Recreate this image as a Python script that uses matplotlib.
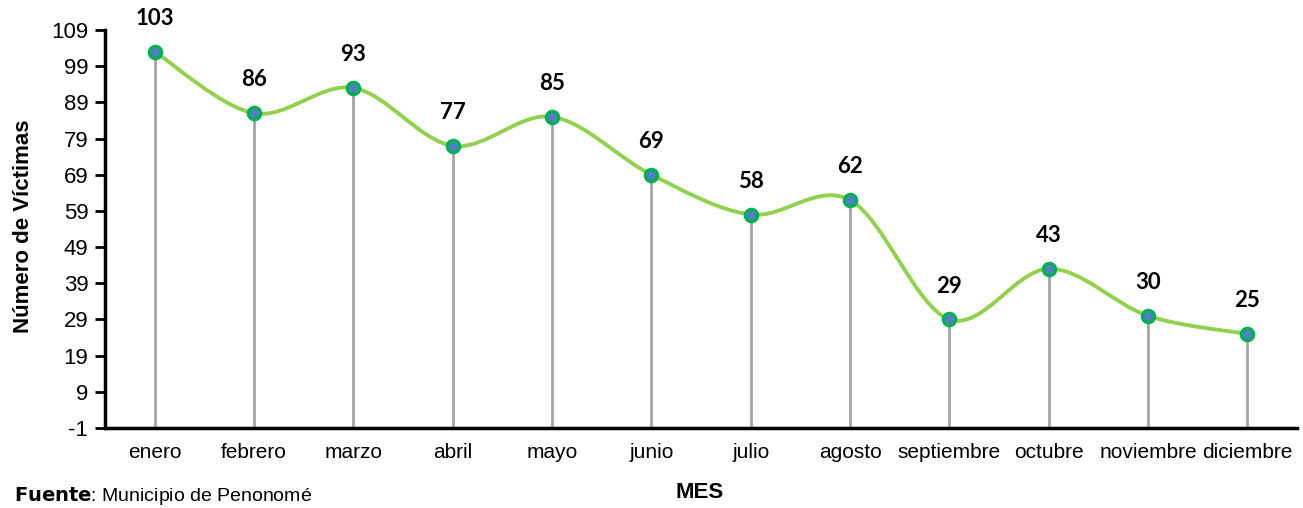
import matplotlib.pyplot as plt
import numpy as np
from matplotlib.path import Path
from matplotlib.patches import PathPatch

# data
meses = ['enero', 'febrero', 'marzo', 'abril', 'mayo', 'junio', 'julio',
         'agosto', 'septiembre', 'octubre', 'noviembre', 'diciembre']
victimas = [103, 86, 93, 77, 85, 69, 58, 62, 29, 43, 30, 25]
yticks = [-1, 9, 19, 29, 39, 49, 59, 69, 79, 89, 99, 109]

plt.rcParams['font.family'] = ['Liberation Sans', 'DejaVu Sans']
plt.rcParams['axes.unicode_minus'] = False


def smooth_path(xs, ys):
    # excel-style smoothed line: cubic bezier, catmull-rom tangents
    n = len(xs)
    verts = [(xs[0], ys[0])]
    codes = [Path.MOVETO]
    t = 1 / 6
    for i in range(n - 1):
        x0, y0 = (xs[i - 1], ys[i - 1]) if i > 0 else (xs[i], ys[i])
        x1, y1 = xs[i], ys[i]
        x2, y2 = xs[i + 1], ys[i + 1]
        x3, y3 = (xs[i + 2], ys[i + 2]) if i + 2 < n else (x2, y2)
        c1 = (x1 + (x2 - x0) * t, y1 + (y2 - y0) * t)
        c2 = (x2 - (x3 - x1) * t, y2 - (y3 - y1) * t)
        verts += [c1, c2, (x2, y2)]
        codes += [Path.CURVE4] * 3
    return Path(verts, codes)


fig = plt.figure(figsize=(13.03, 5.08), dpi=100)
ax = fig.add_axes([0.0806, 0.1575, 0.9148, 0.7835])

x = np.arange(len(meses))

# gray drop lines
ax.vlines(x, -1, victimas, color='#a6a6a6', lw=2, zorder=1)

ax.add_patch(PathPatch(smooth_path(x, victimas), fill=False,
                       edgecolor='#92d050', lw=2.8, zorder=2))
ax.plot(x, victimas, 'o', ms=9, mfc='#4f81bd', mec='#00b050', mew=2.2,
        zorder=3, ls='none')

for xi, v in zip(x, victimas):
    ax.annotate(str(v), (xi, v), xytext=(0, 24), textcoords='offset points',
                ha='center', va='center', fontsize=16, fontweight='bold',
                family=['Lato', 'DejaVu Sans'])

ax.set_xlim(-0.5, 11.5)
ax.set_ylim(-1, 109)
ax.set_yticks(yticks)
ax.set_xticks(x)
ax.set_xticklabels(meses, fontsize=15)
ax.tick_params(axis='x', length=0, pad=11)
ax.tick_params(axis='y', labelsize=16, length=7, width=2, pad=5)

for s in ['top', 'right']:
    ax.spines[s].set_visible(False)
ax.spines['left'].set_linewidth(2.5)
ax.spines['bottom'].set_linewidth(2.5)

fig.text(0.018, 0.555, 'Número de Víctimas', rotation=90, ha='center',
         va='center', fontsize=16, fontweight='bold')
fig.text(0.537, 0.03, 'MES', ha='center', va='center', fontsize=16,
         fontweight='bold')
fig.text(0.011, 0.002, r'$\bf{Fuente}$: Municipio de Penonomé', fontsize=14,
         va='bottom', ha='left')

fig.savefig('out.png', dpi=100)
